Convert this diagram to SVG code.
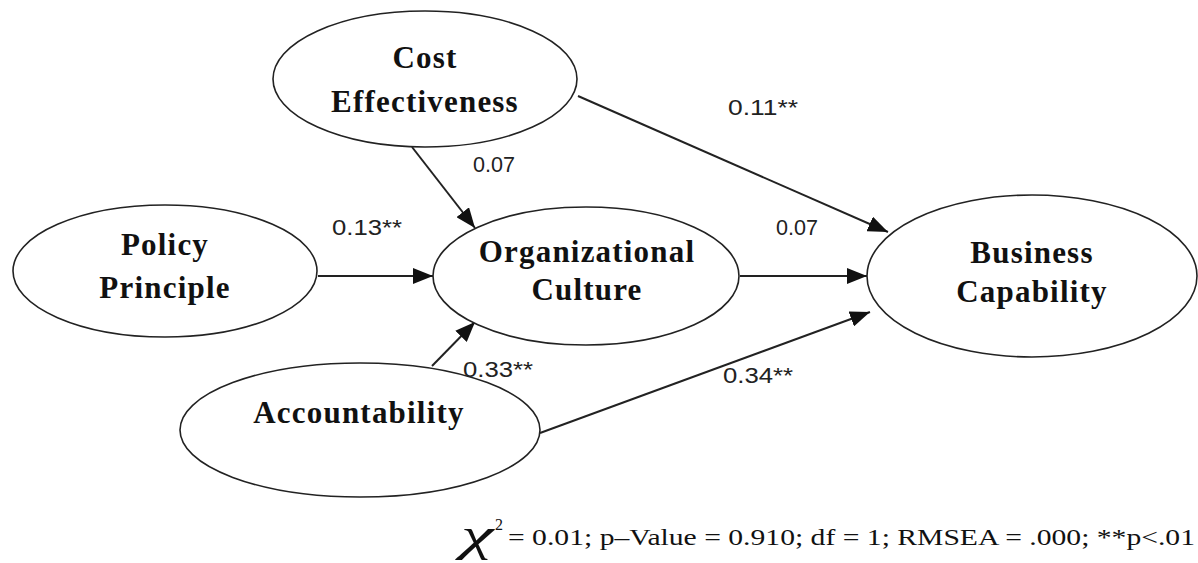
<svg xmlns="http://www.w3.org/2000/svg" width="1198" height="563" viewBox="0 0 1198 563">
<defs>
<style>
.node ellipse{fill:#fff;stroke:#222;stroke-width:1.6}
.node text{font-family:"Liberation Serif","Times New Roman",serif;font-weight:bold;font-size:31px;letter-spacing:1.2px;fill:#111;text-anchor:middle}
.conn line{stroke:#222;stroke-width:2}
.lbl{font-family:"Liberation Sans",Arial,sans-serif;font-size:22px;fill:#222}
.fit{font-family:"Liberation Serif","Times New Roman",serif;font-size:24px;fill:#111}
</style>
<marker id="arr" markerWidth="20" markerHeight="16" viewBox="0 0 20 16" refX="20" refY="8" orient="auto" markerUnits="userSpaceOnUse">
<path d="M0,0 L20,8 L0,16 Z" fill="#111"/>
</marker>
</defs>
<rect width="1198" height="563" fill="#fff"/>
<g id="connectors" class="conn">
<line x1="412" y1="147" x2="475" y2="228" marker-end="url(#arr)"/>
<line x1="578" y1="96" x2="888" y2="232" marker-end="url(#arr)"/>
<line x1="318" y1="276" x2="433" y2="276" marker-end="url(#arr)"/>
<line x1="740" y1="276" x2="867" y2="276" marker-end="url(#arr)"/>
<line x1="432" y1="366" x2="475" y2="322" marker-end="url(#arr)"/>
<line x1="540" y1="433" x2="870" y2="312" marker-end="url(#arr)"/>
</g>
<g id="cost-effectiveness" class="node">
<ellipse cx="425" cy="79" rx="152" ry="68"/>
<text x="425" y="68">Cost</text>
<text x="425" y="112">Effectiveness</text>
</g>
<g id="policy-principle" class="node">
<ellipse cx="165" cy="271" rx="152" ry="66"/>
<text x="165" y="255">Policy</text>
<text x="165" y="298">Principle</text>
</g>
<g id="organizational-culture" class="node">
<ellipse cx="586" cy="276" rx="153" ry="69"/>
<text x="587" y="262">Organizational</text>
<text x="587" y="300">Culture</text>
</g>
<g id="business-capability" class="node">
<ellipse cx="1032" cy="276" rx="165" ry="81"/>
<text x="1032" y="263">Business</text>
<text x="1032" y="302">Capability</text>
</g>
<g id="accountability" class="node">
<ellipse cx="360" cy="430" rx="180" ry="67"/>
<text x="359" y="423">Accountability</text>
</g>
<g id="labels">
<text class="lbl" x="728" y="115" textLength="70" lengthAdjust="spacingAndGlyphs">0.11**</text>
<text class="lbl" x="473" y="172" textLength="42" lengthAdjust="spacingAndGlyphs">0.07</text>
<text class="lbl" x="332" y="235" textLength="70" lengthAdjust="spacingAndGlyphs">0.13**</text>
<text class="lbl" x="776" y="235" textLength="42" lengthAdjust="spacingAndGlyphs">0.07</text>
<text class="lbl" x="463" y="377" textLength="70" lengthAdjust="spacingAndGlyphs">0.33**</text>
<text class="lbl" x="723" y="383" textLength="70" lengthAdjust="spacingAndGlyphs">0.34**</text>
</g>
<g id="fit">
<text transform="translate(461,550) scale(1.6,1)" x="0" y="0" style="font-family:'Liberation Serif','Times New Roman',serif;font-style:italic;font-size:46px;fill:#111">χ</text>
<text x="495" y="530" style="font-family:'Liberation Serif','Times New Roman',serif;font-size:16px;fill:#111">2</text>
<text class="fit" x="508" y="545" textLength="687" lengthAdjust="spacingAndGlyphs">= 0.01; p–Value = 0.910; df = 1; RMSEA = .000; **p&lt;.01</text>
</g>
</svg>
